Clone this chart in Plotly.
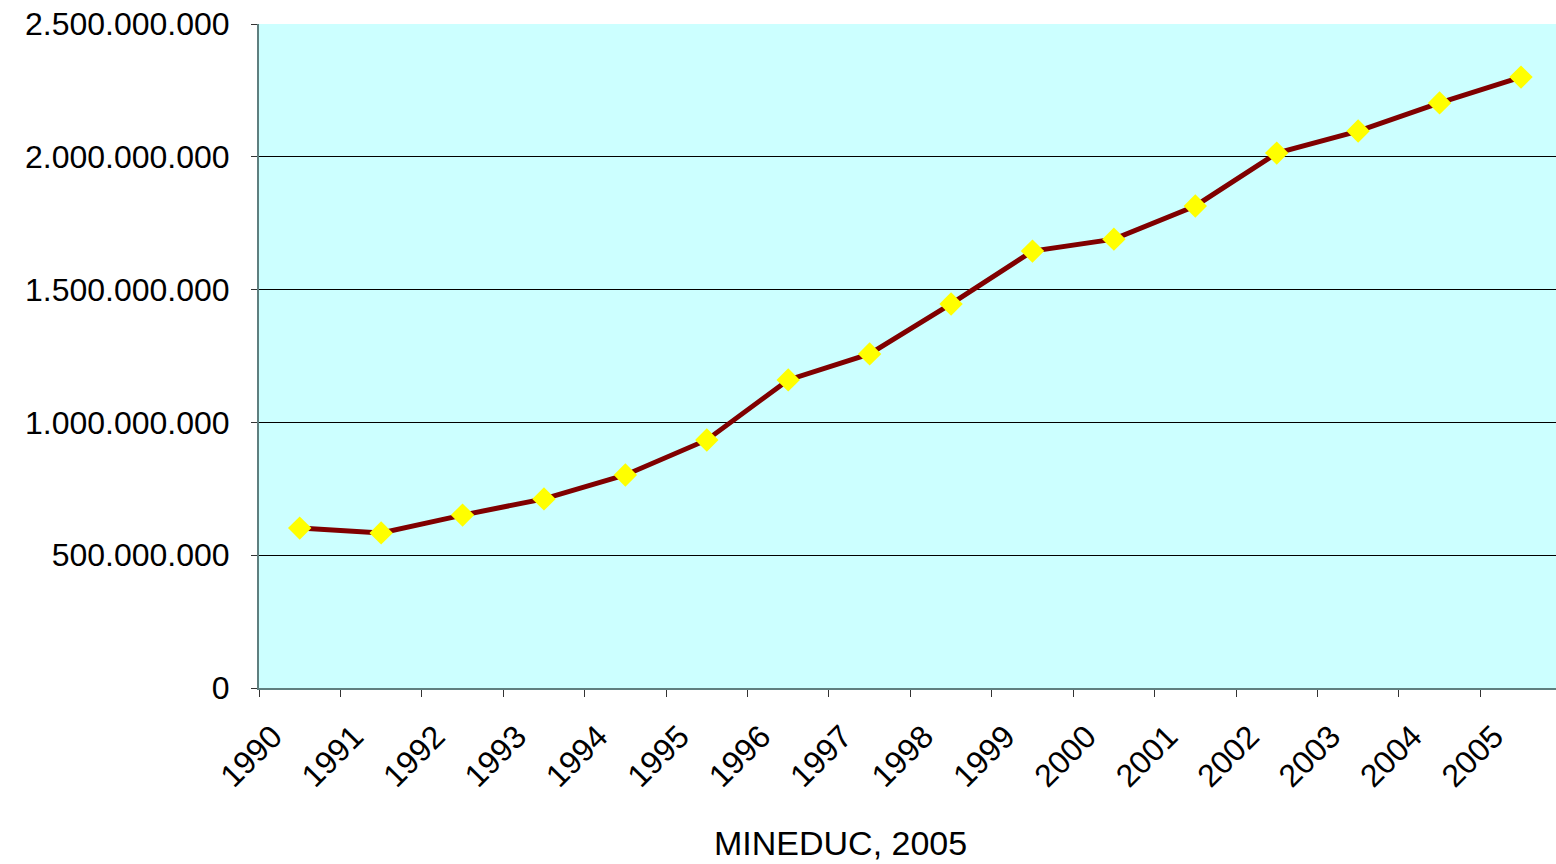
import plotly.graph_objects as go

years = ["1990", "1991", "1992", "1993", "1994", "1995", "1996", "1997",
         "1998", "1999", "2000", "2001", "2002", "2003", "2004", "2005"]
values = [602e6, 584e6, 651e6, 712e6, 802e6, 934e6, 1160e6, 1258e6,
          1446e6, 1645e6, 1690e6, 1815e6, 2014e6, 2097e6, 2203e6, 2300e6]
y_ticks = [0, 500e6, 1000e6, 1500e6, 2000e6, 2500e6]
source_label = "MINEDUC, 2005"

idx = list(range(len(years)))
FONT = "Liberation Sans, Arial, sans-serif"

fig = go.Figure()
fig.add_trace(go.Scatter(
    x=idx, y=values, mode="lines+markers",
    line=dict(color="#800000", width=5),
    marker=dict(symbol="diamond", size=18, color="#FFFF00", line=dict(width=0)),
    showlegend=False, cliponaxis=False,
))

fig.update_layout(
    width=1556, height=864,
    margin=dict(l=259, r=0, t=24, b=176, autoexpand=False),
    paper_bgcolor="white", plot_bgcolor="#CCFFFF",
    separators=",.",
    font=dict(family=FONT, size=32, color="black"),
    xaxis=dict(
        range=[-0.5, 15.43], automargin=False,
        tickmode="array", tickvals=idx, ticktext=years,
        tickangle=-45, ticks="", showgrid=False,
        ticklabelshift=-27, ticklabelstandoff=15,
        showline=True, linecolor="#5F7F7F", linewidth=2,
        zeroline=False,
        minor=dict(tickmode="array", tickvals=[i - 0.5 for i in idx],
                   ticks="outside", ticklen=7, tickcolor="#333333", tickwidth=1,
                   showgrid=False),
        tickfont=dict(size=32),
    ),
    yaxis=dict(
        range=[0, 2.5e9], automargin=False,
        tickmode="array", tickvals=y_ticks, tickformat=",d",
        ticks="outside", ticklen=6, tickcolor="#333333",
        ticklabelstandoff=15,
        showgrid=True, gridcolor="#000000", gridwidth=1,
        showline=True, linecolor="#5F7F7F", linewidth=2,
        zeroline=False, tickfont=dict(size=32),
    ),
    annotations=[dict(
        text=source_label, xref="paper", yref="paper",
        x=(840 - 259) / 1297, y=-(843 - 688) / 664,
        xanchor="center", yanchor="middle", showarrow=False,
        font=dict(size=34, family=FONT, color="black"),
    )],
)

fig.write_html("out.html", config={"displayModeBar": False},
               post_script="document.body.style.margin='0';document.body.style.overflow='hidden';")
